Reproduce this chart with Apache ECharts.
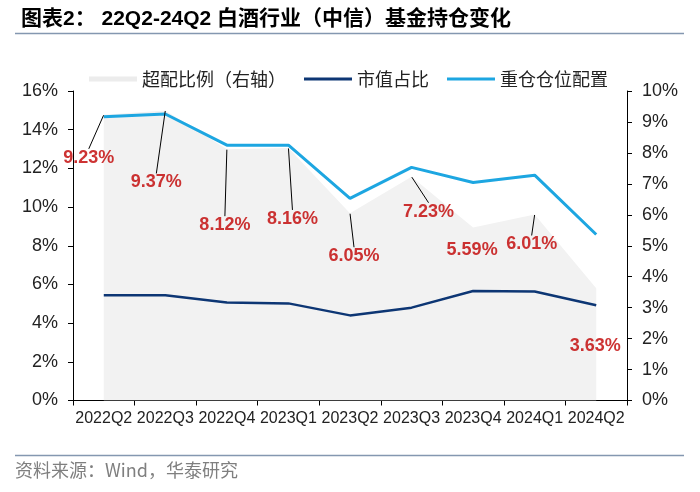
<!DOCTYPE html>
<html><head><meta charset="utf-8">
<script src="https://cdn.jsdelivr.net/npm/echarts@6/dist/echarts.min.js"></script>
<style>html,body{margin:0;padding:0;background:#fff}#c{width:700px;height:492px}</style>
</head><body><div id="c"></div>
<script>
const categories = ['2022Q2','2022Q3','2022Q4','2023Q1','2023Q2','2023Q3','2023Q4','2024Q1','2024Q2'];
// 超配比例（右轴）, %
const overweight = [9.23, 9.37, 8.12, 8.16, 6.05, 7.23, 5.59, 6.01, 3.63];
// 市值占比, %
const marketShare = [5.44, 5.44, 5.07, 5.02, 4.40, 4.80, 5.66, 5.63, 4.92];
// 重仓仓位配置, %
const heavyPosition = [14.67, 14.81, 13.20, 13.20, 10.45, 12.05, 11.27, 11.65, 8.58];
const seriesNames = ['超配比例（右轴）', '市值占比', '重仓仓位配置'];
const leftAxisMax = 16, leftAxisStep = 2;
const rightAxisMax = 10, rightAxisStep = 1;

const labelOffsets = [[-15,43],[-9,72],[-2,76],[4,71],[4,43],[17,35],[-1,23],[-3,30],[-1,58]];
const noLeader = [6, 8];

const FONT = '"Liberation Sans", Arial, "Noto Sans CJK SC", sans-serif';
const CJK = '"Noto Sans CJK SC", "Liberation Sans", sans-serif';
const LINE_ICON = 'path://M0,0L16,0L16,1L0,1Z';

const chart = echarts.init(document.getElementById('c'), null, {renderer: 'canvas'});
chart.setOption({
  backgroundColor: '#fff',
  animation: false,
  textStyle: {fontFamily: FONT},
  title: {
    text: '图表2： 22Q2-24Q2 白酒行业（中信）基金持仓变化',
    left: 16, top: 4,
    textStyle: {fontFamily: '"Liberation Sans", "Noto Sans CJK SC", sans-serif', fontWeight: 'bold', fontSize: 21, color: '#000'}
  },
  graphic: [
    {type: 'line', shape: {x1: 15, y1: 33.5, x2: 684, y2: 33.5}, style: {stroke: '#8497b0', lineWidth: 1.5}},
    {type: 'line', shape: {x1: 15, y1: 455.5, x2: 684, y2: 455.5}, style: {stroke: '#8497b0', lineWidth: 1.5}},
    {type: 'text', left: 15, top: 461, style: {text: '资料来源：Wind，华泰研究', font: '18px ' + CJK, fill: '#7f7f7f'}}
  ],
  legend: {
    left: 84, top: 65,
    itemWidth: 48, itemHeight: 5, itemGap: 18,
    textStyle: {fontFamily: CJK, fontSize: 18, color: '#222'},
    data: [
      {name: seriesNames[0], icon: 'rect', itemStyle: {color: '#ececec'}},
      {name: seriesNames[1], icon: LINE_ICON, itemStyle: {color: '#0d3674'}},
      {name: seriesNames[2], icon: LINE_ICON, itemStyle: {color: '#1da6e1'}}
    ]
  },
  grid: {left: 73, right: 73, top: 91, bottom: 91.5},
  xAxis: {
    type: 'category', data: categories, boundaryGap: true,
    axisLine: {lineStyle: {color: '#000', width: 1}},
    axisTick: {show: true, length: 5, lineStyle: {color: '#000'}},
    axisLabel: {color: '#222', fontSize: 16, margin: 10, interval: 0, fontFamily: FONT}
  },
  yAxis: [
    {type: 'value', min: 0, max: leftAxisMax, interval: leftAxisStep,
     splitLine: {show: false},
     axisLine: {show: true, lineStyle: {color: '#000'}},
     axisTick: {show: true, length: 5, lineStyle: {color: '#000'}},
     axisLabel: {formatter: '{value}%', color: '#222', fontSize: 18, margin: 15, fontFamily: FONT}},
    {type: 'value', min: 0, max: rightAxisMax, interval: rightAxisStep, position: 'right',
     splitLine: {show: false},
     axisLine: {show: true, lineStyle: {color: '#000'}},
     axisTick: {show: true, length: 5, lineStyle: {color: '#000'}},
     axisLabel: {formatter: '{value}%', color: '#222', fontSize: 18, margin: 15, fontFamily: FONT}}
  ],
  series: [
    {name: seriesNames[0], type: 'line', yAxisIndex: 1, data: overweight,
     symbol: 'none', z: 1, color: '#efefef',
     lineStyle: {width: 0, color: '#efefef'},
     areaStyle: {color: '#f2f2f2', opacity: 1}},
    {name: seriesNames[1], type: 'line', yAxisIndex: 0, data: marketShare,
     symbol: 'none', z: 3, color: '#0d3674',
     lineStyle: {width: 2.5, color: '#0d3674'}},
    {name: seriesNames[2], type: 'line', yAxisIndex: 0, data: heavyPosition,
     symbol: 'none', z: 3, color: '#1da6e1',
     lineStyle: {width: 3, color: '#1da6e1'}},
    {name: 'labels', type: 'scatter', yAxisIndex: 1, z: 5,
     data: overweight.map((v, i) => ({value: v, labelLine: {show: noLeader.indexOf(i) < 0}})),
     symbolSize: 1, itemStyle: {color: 'rgba(0,0,0,0)'},
     silent: true,
     label: {show: true, position: 'inside', formatter: p => p.value.toFixed(2) + '%',
             color: '#c00000', fontWeight: 'bold', fontSize: 18, fontFamily: FONT},
     labelLine: {show: true, lineStyle: {color: '#000', width: 1}},
     labelLayout: p => ({dx: labelOffsets[p.dataIndex][0], dy: labelOffsets[p.dataIndex][1]})}
  ]
});
</script></body></html>
